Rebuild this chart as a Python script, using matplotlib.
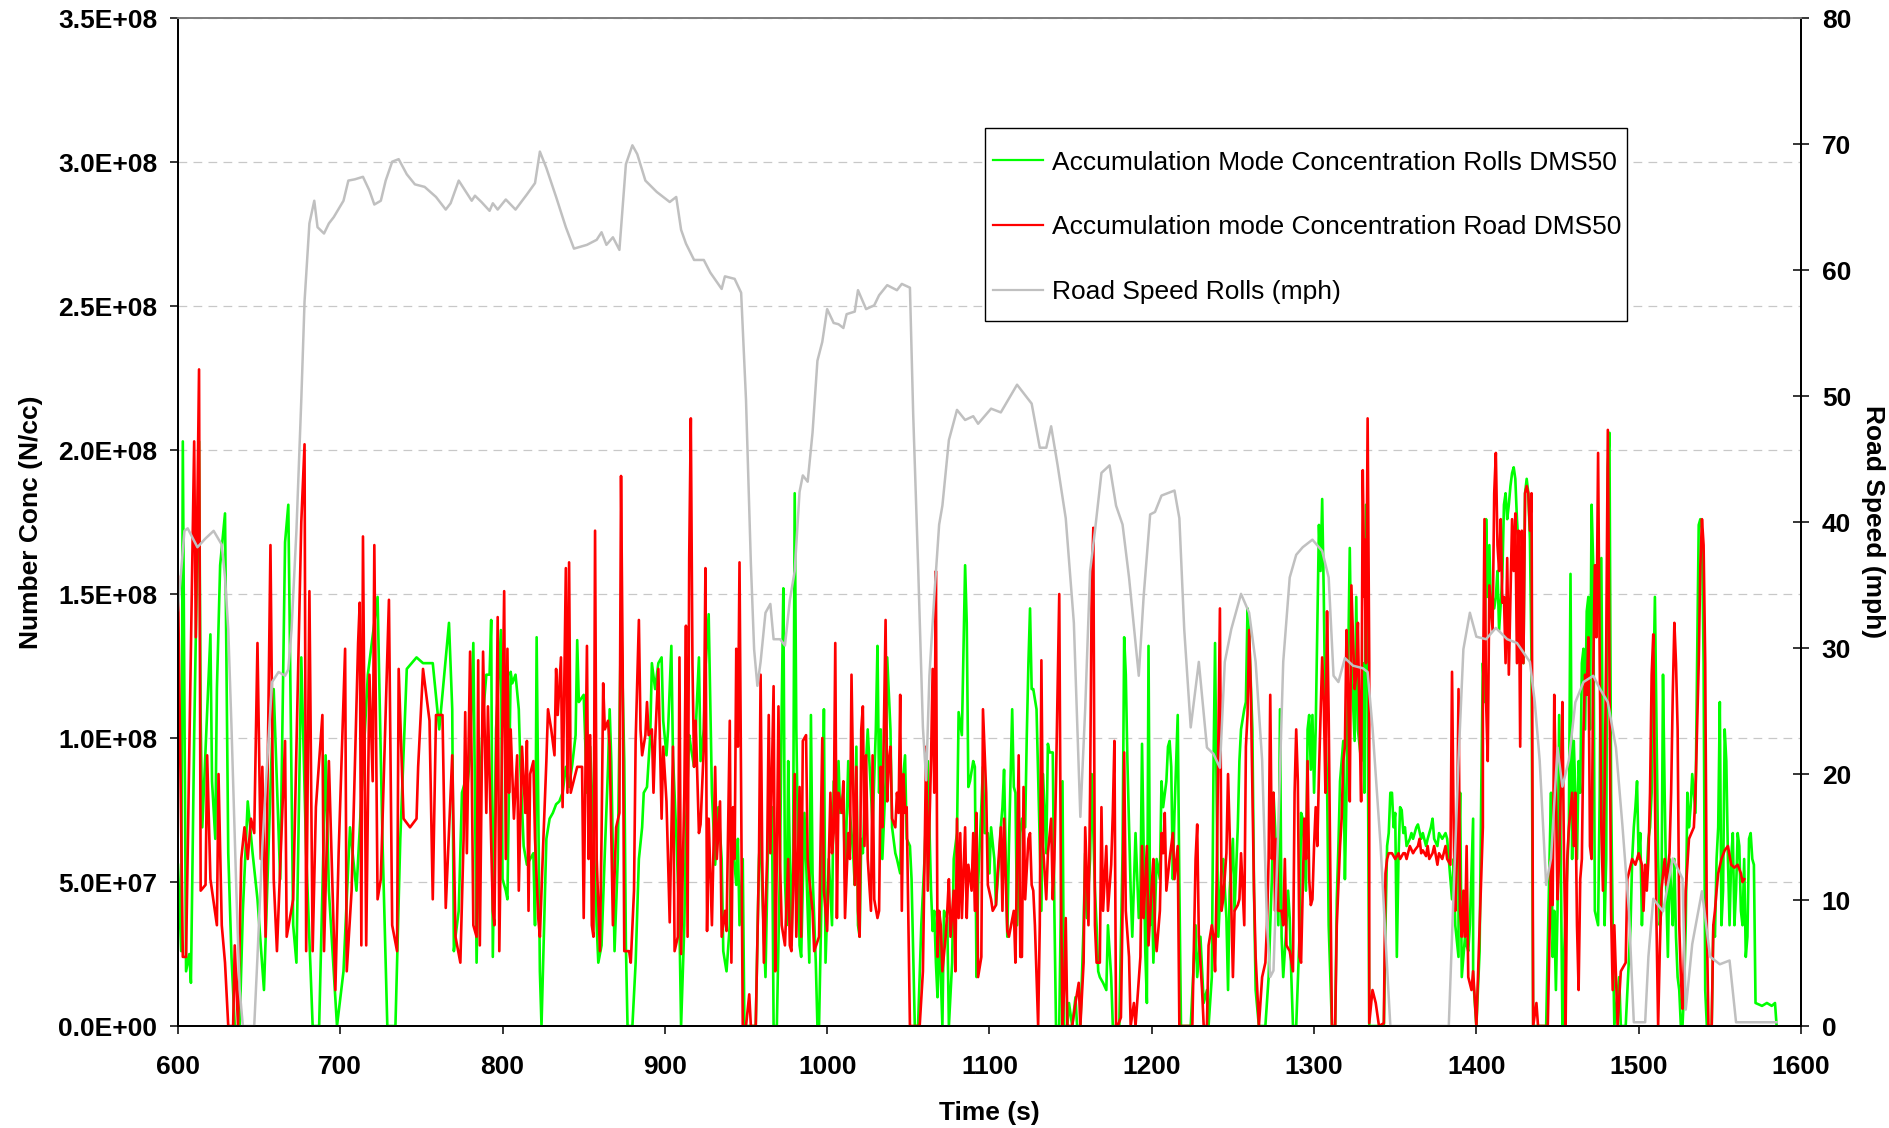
import matplotlib
matplotlib.use("Agg")
import matplotlib.pyplot as plt
from matplotlib.patches import Rectangle
from matplotlib.ticker import FuncFormatter, MultipleLocator
import numpy as np

plt.rcParams["font.family"] = ["Liberation Sans", "DejaVu Sans"]

# accumulation mode concentration, rolls (time s, N/cc in units of 1e7)
GREEN_ROLLS = [
    (600, 5.6), (602, 2.6), (603, 20.3), (605, 1.9), (607, 2.5), (608, 1.5), (610, 10.1), (613, 20.3),
    (614, 10.6), (615, 6.9), (620, 13.6), (621, 8.5), (623, 6.5), (624, 11.7), (626, 16.0), (629, 17.8),
    (631, 6.0), (633, 2.4), (635, 0), (638, 0), (640, 4.0), (643, 7.8), (646, 6.0), (649, 4.4),
    (653, 1.25), (659, 11.7), (663, 5.1), (666, 16.8), (668, 18.1), (671, 3.5), (673, 2.2), (676, 12.8),
    (679, 6.0), (683, 0), (687, 0), (691, 9.4), (693, 4.7), (698, 0), (702, 1.9), (706, 6.9),
    (710, 4.7), (717, 12.2), (723, 14.9), (726, 6.5), (729, 0), (734, 0), (737, 6.5), (741, 12.4),
    (747, 12.8), (751, 12.6), (757, 12.6), (761, 10.3), (767, 14.0),
    (769, 11.0), (770, 2.6), (771, 3.1), (773, 4.0), (775, 8.1), (777, 8.5), (778, 8.1), (780, 9.4),
    (782, 13.3), (783, 8.1), (784, 2.2), (786, 8.1), (788, 10.8), (790, 12.2), (792, 12.2), (793, 14.1),
    (794, 2.4), (796, 10.3), (799, 13.75), (800, 5.1), (802, 4.7), (803, 4.4), (805, 12.3), (806, 11.9),
    (808, 12.2), (810, 11.0), (811, 9.0), (813, 6.25), (815, 5.6), (817, 5.8), (819, 6.0), (820, 3.5),
    (821, 13.5), (823, 1.9), (824, 0), (825, 2.2), (827, 6.5), (829, 7.2), (831, 7.4), (833, 7.7),
    (835, 7.8), (837, 8.1), (839, 9.0), (841, 8.3), (843, 9.1), (845, 10.1), (846, 13.4), (847, 11.25),
    (850, 11.5), (852, 8.1), (854, 9.7), (856, 6.7), (858, 3.5), (859, 2.2), (861, 2.8), (863, 6.0),
    (865, 9.0), (866, 11.0), (867, 9.2), (869, 2.6), (871, 5.8), (873, 14.4), (875, 9.2), (876, 2.8),
    (877, 0), (880, 0), (882, 2.2), (884, 5.8), (886, 6.9), (887, 8.1), (889, 8.3), (891, 10.1),
    (892, 12.6), (894, 11.7), (896, 12.6), (898, 12.8), (899, 10.6), (901, 9.4), (902, 10.3), (904, 13.2),
    (905, 9.4), (907, 6.7), (909, 3.5), (910, 0), (912, 3.5), (913, 6.9), (915, 10.1), (916, 9.7),
    (918, 9.0), (921, 12.8), (922, 9.2), (924, 10.3), (925, 12.4), (927, 14.3),
    (929, 8.1), (931, 5.6), (933, 7.6), (935, 5.8), (936, 2.6), (938, 1.9), (940, 3.5), (941, 6.25),
    (942, 6.25), (944, 4.9), (945, 6.5), (946, 3.5), (948, 5.8), (949, 0), (956, 0), (958, 5.8),
    (959, 6.9), (960, 4.7), (962, 1.7), (964, 7.6), (966, 7.6), (967, 0), (969, 0), (971, 5.8),
    (972, 11.0), (973, 15.2), (974, 5.1), (975, 3.5), (976, 9.2), (977, 5.8), (978, 2.8), (979, 5.8),
    (980, 18.5), (981, 10.3), (983, 2.8), (984, 2.4), (986, 7.4), (987, 5.8), (989, 2.2), (990, 10.8),
    (991, 5.3), (993, 2.2), (994, 0), (995, 0), (997, 5.8), (998, 11.0), (999, 2.2), (1001, 5.8),
    (1003, 3.5), (1004, 8.5), (1006, 6.7), (1007, 9.2), (1008, 7.4), (1010, 8.1), (1011, 5.1), (1013, 9.2),
    (1014, 7.4), (1016, 6.0), (1017, 4.9), (1018, 9.7), (1019, 3.5), (1020, 3.1), (1021, 6.5), (1022, 6.0),
    (1024, 9.2), (1025, 10.3), (1027, 8.1), (1028, 6.9), (1030, 10.3), (1031, 13.2), (1032, 8.1), (1033, 10.3),
    (1034, 5.8), (1036, 8.5), (1037, 12.8), (1039, 10.3), (1040, 6.9), (1042, 6.0), (1043, 5.8), (1045, 5.3),
    (1046, 8.1), (1048, 9.4), (1049, 6.5), (1051, 6.25), (1052, 5.1), (1054, 0), (1056, 0), (1058, 3.5),
    (1060, 5.8), (1062, 9.2), (1064, 4.7), (1065, 3.3), (1066, 4.0), (1067, 2.2), (1068, 1.0), (1069, 3.5),
    (1071, 0), (1072, 4.0), (1074, 3.75), (1075, 0), (1077, 2.2), (1078, 5.8), (1080, 6.7), (1081, 10.9),
    (1083, 10.1), (1085, 16.0), (1086, 14.0), (1087, 8.3), (1088, 8.5), (1090, 9.2), (1091, 9.0), (1092, 1.7),
    (1093, 4.9), (1096, 9.0), (1097, 6.7), (1099, 6.7), (1100, 5.3), (1101, 6.9), (1103, 5.8), (1104, 4.2),
    (1106, 5.8), (1107, 6.9), (1108, 7.6), (1109, 8.9), (1111, 3.1), (1112, 6.25), (1114, 11.0), (1115, 8.3),
    (1116, 8.1), (1117, 3.5), (1119, 6.7), (1120, 7.2), (1122, 6.9), (1123, 10.1), (1124, 12.6), (1125, 14.5),
    (1126, 11.7), (1127, 11.7), (1129, 11.0), (1131, 6.25), (1132, 4.0), (1133, 8.75), (1135, 6.0), (1136, 9.8),
    (1137, 9.5), (1139, 9.5), (1140, 4.0), (1141, 0), (1143, 0), (1145, 8.5), (1146, 0), (1148, 0),
    (1149, 0.8), (1151, 0), (1153, 1.0), (1154, 0), (1156, 0), (1158, 3.5), (1159, 6.0), (1160, 3.75),
    (1162, 5.8), (1163, 8.75), (1165, 4.7), (1166, 3.5), (1167, 1.9), (1168, 1.7), (1170, 1.5), (1172, 1.25),
    (1173, 3.5), (1175, 1.7), (1176, 0), (1180, 0), (1182, 6.0), (1183, 13.5), (1184, 12.2), (1185, 9.2),
    (1187, 4.7), (1188, 3.1), (1190, 6.7), (1192, 3.75), (1193, 4.7), (1194, 9.8), (1195, 6.25), (1196, 2.6),
    (1197, 0.8), (1198, 13.2), (1199, 3.5), (1200, 5.1), (1201, 2.2), (1203, 5.8), (1205, 5.1), (1206, 8.5),
    (1207, 7.6), (1209, 8.5), (1210, 9.7), (1211, 9.9), (1212, 9.0), (1213, 5.1), (1214, 7.4), (1216, 10.8),
    (1217, 4.9), (1218, 0), (1224, 0), (1227, 3.5), (1228, 1.7), (1230, 3.1), (1232, 0.8), (1234, 1.25),
    (1235, 0), (1237, 1.7), (1238, 8.75), (1239, 13.3), (1240, 7.8), (1241, 3.1), (1243, 5.6), (1244, 5.8),
    (1246, 3.75), (1247, 1.25), (1248, 4.7), (1250, 6.5), (1251, 4.0), (1253, 6.9), (1254, 9.2), (1255, 10.3),
    (1257, 11.0), (1258, 11.25), (1259, 14.5), (1260, 13.6), (1262, 10.3), (1263, 4.7),
    (1264, 1.25), (1266, 0), (1270, 0), (1272, 1.7), (1273, 3.5), (1274, 5.1), (1275, 8.1), (1276, 6.9),
    (1278, 3.5), (1279, 11.0), (1280, 3.1), (1281, 1.7), (1283, 3.5), (1284, 4.7), (1285, 3.75), (1286, 1.7),
    (1287, 0), (1289, 0), (1291, 3.1), (1292, 7.4), (1293, 7.2), (1295, 4.7), (1296, 10.3), (1297, 10.8),
    (1298, 8.9), (1299, 10.8), (1300, 8.1), (1301, 10.3), (1303, 17.4), (1304, 15.8), (1305, 18.3), (1306, 14.9),
    (1307, 10.3), (1308, 8.5), (1309, 3.5), (1311, 0), (1313, 0), (1314, 4.4), (1315, 6.25), (1316, 8.5),
    (1318, 9.9), (1319, 5.1), (1320, 8.1), (1321, 12.6), (1322, 16.6), (1323, 12.6), (1325, 9.9), (1326, 14.9),
    (1327, 10.3), (1329, 9.2), (1330, 12.6), (1331, 8.1), (1332, 18.1), (1333, 11.7), (1334, 0), (1343, 0),
    (1344, 3.5), (1345, 6.25), (1346, 6.7), (1347, 8.1), (1348, 8.1), (1349, 6.9), (1350, 7.4), (1351, 2.4),
    (1352, 5.8), (1353, 7.6), (1354, 7.5), (1355, 6.7), (1356, 6.9), (1357, 6.25), (1359, 6.5), (1360, 6.7),
    (1361, 6.5), (1363, 6.9), (1364, 7.0), (1366, 6.5), (1367, 6.7), (1369, 6.25), (1370, 6.5), (1372, 6.9),
    (1373, 7.2), (1374, 6.5), (1376, 6.25), (1377, 6.7), (1379, 6.5), (1381, 6.7), (1382, 6.5), (1383, 5.8),
    (1385, 4.4), (1386, 5.8), (1387, 3.5), (1389, 2.4), (1389, 5.1), (1390, 8.1), (1391, 1.7), (1393, 3.1),
    (1394, 2.8), (1395, 2.6), (1396, 3.5), (1398, 7.2), (1398, 1.7), (1400, 0), (1402, 2.6), (1403, 8.1),
    (1404, 12.6), (1405, 11.25), (1406, 17.6), (1407, 14.9), (1408, 16.7), (1409, 14.4), (1410, 14.9), (1411, 14.5),
    (1412, 14.9), (1413, 15.8), (1414, 13.75), (1416, 15.6), (1417, 18.1), (1418, 18.5), (1419, 17.6), (1420, 18.1),
    (1421, 18.75), (1422, 19.2), (1423, 19.4), (1424, 19.0), (1425, 17.6), (1426, 16.7),
    (1428, 16.5), (1429, 12.6), (1430, 18.5), (1431, 19.0), (1432, 18.5), (1433, 16.9), (1434, 12.6), (1435, 0),
    (1443, 0), (1445, 5.6), (1446, 8.1), (1447, 2.4), (1448, 4.0), (1449, 1.25), (1450, 4.0), (1451, 10.8),
    (1452, 5.8), (1453, 0), (1454, 2.4), (1455, 4.0), (1457, 6.9), (1458, 15.7), (1459, 5.8), (1460, 9.9),
    (1461, 8.1), (1462, 5.8), (1463, 9.2), (1464, 8.1), (1465, 12.6), (1466, 13.1), (1467, 10.3), (1468, 14.4),
    (1469, 14.9), (1470, 10.3), (1471, 18.1), (1472, 16.0), (1473, 4.0), (1475, 3.5), (1476, 8.1), (1477, 16.25),
    (1478, 8.1), (1479, 3.5), (1480, 5.8), (1481, 19.4), (1482, 20.6), (1483, 8.1), (1484, 3.5), (1485, 0),
    (1488, 1.7), (1489, 0), (1492, 0), (1495, 3.5), (1496, 5.8), (1497, 6.9), (1498, 7.6), (1499, 8.5),
    (1500, 5.8), (1501, 6.7), (1502, 3.5), (1503, 5.3), (1505, 5.3), (1506, 6.5), (1507, 6.9), (1508, 8.1),
    (1509, 11.5), (1510, 14.9), (1511, 10.3), (1512, 5.8), (1513, 3.5), (1514, 4.0), (1515, 12.2), (1516, 8.1),
    (1517, 4.7), (1518, 2.4), (1519, 5.8), (1520, 4.7), (1521, 3.5), (1522, 5.8), (1523, 3.1), (1524, 1.7),
    (1525, 1.25), (1526, 0), (1527, 0), (1528, 1.25), (1529, 3.5), (1530, 8.1), (1531, 6.9), (1532, 7.6),
    (1533, 8.75), (1535, 7.4), (1536, 12.6), (1537, 17.4), (1538, 17.6), (1539, 17.2), (1540, 12.6), (1541, 1.25),
    (1542, 0), (1545, 0), (1546, 3.5), (1547, 3.1), (1548, 5.8), (1549, 6.9), (1550, 11.25), (1551, 3.5),
    (1552, 4.7), (1553, 10.3), (1554, 9.2), (1555, 5.8), (1556, 3.5), (1557, 5.8), (1558, 6.7), (1559, 3.5),
    (1560, 4.7), (1561, 6.7), (1562, 6.25), (1563, 4.0), (1564, 3.5), (1565, 5.8), (1566, 2.4), (1567, 3.1),
    (1568, 6.5), (1569, 6.7), (1570, 5.8), (1571, 5.6), (1572, 0.8), (1576, 0.7), (1579, 0.8), (1582, 0.7),
    (1584, 0.8), (1585, 0),
]

# accumulation mode concentration, road (time s, N/cc in units of 1e7)
RED_ROAD = [
    (600, 15.6), (603, 2.4), (605, 2.4), (610, 20.3), (611, 13.5), (613, 22.8), (614, 4.7), (617, 4.9),
    (618, 9.4), (620, 5.1), (624, 3.5), (625, 8.75), (627, 3.5), (629, 2.2), (631, 0), (634, 0),
    (635, 2.8), (637, 0), (639, 5.8), (641, 6.9), (643, 5.8), (645, 7.2), (647, 6.7), (649, 13.3),
    (651, 5.8), (652, 9.0), (654, 3.1), (657, 16.7), (659, 5.1), (661, 2.6), (666, 9.9), (667, 3.1),
    (671, 4.4), (676, 17.5), (678, 20.2), (679, 2.6), (681, 15.1), (683, 2.6), (685, 7.6), (689, 10.8),
    (690, 2.6), (693, 9.2), (697, 1.25), (699, 6.0), (703, 13.1), (704, 1.9), (707, 4.7), (711, 13.3),
    (712, 14.7), (713, 2.8), (714, 17.0), (716, 2.8), (718, 12.2), (720, 8.5), (721, 16.7), (723, 4.4),
    (725, 5.1), (730, 14.8), (732, 3.5), (735, 2.6), (736, 12.4), (739, 7.2), (743, 6.9), (747, 7.2),
    (748, 9.0), (751, 12.4), (755, 10.6), (757, 4.4), (759, 10.8), (763, 10.8), (765, 4.1),
    (769, 9.4), (771, 3.1), (774, 2.2), (776, 6.5), (777, 10.9), (778, 6.0), (780, 13.0), (781, 9.0),
    (782, 3.5), (784, 3.1), (785, 12.7), (786, 2.8), (788, 13.0), (790, 7.4), (791, 11.1), (792, 8.75),
    (794, 4.0), (795, 3.5), (797, 14.2), (798, 2.6), (801, 15.1), (802, 5.8), (803, 13.1), (804, 8.1),
    (805, 10.3), (807, 7.2), (809, 9.4), (810, 4.7), (812, 9.7), (814, 7.4), (815, 9.9), (816, 4.0),
    (817, 8.75), (819, 9.2), (820, 6.5), (822, 3.75), (823, 3.1), (825, 6.25), (827, 9.2), (828, 11.0),
    (830, 10.3), (832, 9.4), (833, 12.4), (834, 10.8), (836, 12.8), (837, 7.6), (839, 15.9), (840, 8.1),
    (841, 16.1), (842, 8.1), (846, 9.0), (849, 9.0), (850, 3.75), (852, 13.2), (853, 5.8), (854, 10.1),
    (855, 3.5), (856, 3.1), (857, 17.2), (858, 5.8), (860, 2.6), (861, 6.6), (862, 11.9), (863, 10.3),
    (865, 10.6), (866, 9.7), (868, 3.5), (870, 6.9), (872, 7.4), (873, 19.1), (874, 12.6), (875, 2.6),
    (878, 2.6), (879, 2.2), (881, 4.7), (882, 9.9), (884, 14.1), (885, 10.3), (886, 9.4), (888, 10.1),
    (889, 11.25), (890, 10.1), (892, 10.3), (893, 8.1), (894, 9.9), (896, 12.4), (898, 7.2), (899, 9.7),
    (901, 7.8), (903, 3.6), (905, 9.7), (906, 2.6), (908, 3.1), (909, 12.8), (910, 2.5), (912, 8.1),
    (913, 13.9), (914, 3.1), (915, 16.25), (916, 21.1), (917, 12.6), (918, 9.0), (919, 10.6), (921, 6.7),
    (922, 7.0), (924, 9.7), (925, 15.9), (926, 3.3), (927, 7.2),
    (929, 3.5), (931, 9.0), (932, 5.8), (934, 7.8), (935, 3.1), (937, 4.0), (938, 3.3), (940, 10.6),
    (941, 2.2), (942, 7.6), (943, 5.8), (944, 13.1), (945, 9.7), (946, 16.1), (947, 8.1), (948, 0),
    (950, 0), (952, 1.1), (953, 0), (956, 0), (958, 5.8), (959, 12.2), (960, 5.8), (961, 2.2),
    (963, 5.8), (964, 10.8), (965, 6.0), (967, 11.8), (968, 1.9), (969, 5.8), (970, 11.1), (971, 5.6),
    (972, 3.5), (974, 2.8), (976, 5.8), (977, 2.8), (978, 2.6), (979, 4.7), (980, 8.75), (981, 3.1),
    (983, 8.3), (984, 3.1), (985, 9.9), (987, 10.1), (988, 5.8), (989, 5.1), (991, 4.0), (992, 2.6),
    (995, 3.1), (997, 10.0), (998, 4.7), (1000, 3.3), (1002, 8.1), (1003, 6.0), (1004, 6.7), (1005, 13.3),
    (1006, 3.75), (1007, 8.1), (1009, 7.4), (1010, 8.5), (1011, 3.75), (1013, 6.7), (1014, 5.8), (1015, 12.2),
    (1017, 4.9), (1018, 9.0), (1019, 4.0), (1020, 3.1), (1021, 10.3), (1022, 11.1), (1023, 6.25), (1024, 9.4),
    (1025, 5.8), (1027, 4.0), (1028, 9.4), (1029, 4.4), (1031, 3.75), (1032, 4.0), (1033, 9.0), (1034, 6.9),
    (1036, 14.1), (1037, 7.8), (1038, 9.2), (1039, 9.7), (1040, 7.2), (1042, 6.9), (1043, 8.1), (1044, 7.4),
    (1045, 11.5), (1046, 4.0), (1047, 8.75), (1048, 7.4), (1049, 7.6), (1051, 0), (1057, 0), (1059, 1.9),
    (1061, 9.7), (1062, 4.7), (1064, 9.2), (1065, 12.4), (1066, 8.1), (1067, 15.8), (1068, 2.4), (1069, 4.0),
    (1070, 3.5), (1071, 1.9), (1073, 3.1), (1074, 4.0), (1075, 5.1), (1076, 3.1), (1078, 4.7), (1079, 1.9),
    (1080, 7.2), (1081, 3.75), (1082, 6.7), (1083, 3.75), (1085, 6.9), (1086, 3.75), (1087, 5.6), (1089, 4.7),
    (1090, 6.7), (1091, 4.0), (1092, 7.4), (1093, 1.7),
    (1095, 2.4), (1096, 11.0), (1098, 8.1), (1099, 4.9), (1101, 4.4), (1102, 4.0), (1104, 4.2), (1105, 5.3),
    (1107, 6.9), (1108, 4.0), (1109, 7.2), (1111, 3.3), (1112, 3.1), (1115, 4.0), (1116, 2.2), (1118, 9.4),
    (1119, 2.4), (1120, 2.4), (1121, 8.3), (1122, 4.4), (1124, 6.5), (1125, 6.7), (1126, 4.9), (1127, 4.7),
    (1128, 3.5), (1130, 0), (1131, 3.5), (1132, 12.7), (1133, 6.25), (1135, 4.4), (1136, 6.0), (1138, 7.2),
    (1139, 4.4), (1140, 5.8), (1141, 8.5), (1143, 15.0), (1144, 5.1), (1145, 0), (1146, 1.25), (1147, 3.75),
    (1148, 0), (1151, 0), (1153, 0.8), (1155, 1.5), (1156, 0), (1158, 2.2), (1159, 6.9), (1161, 3.5),
    (1162, 8.1), (1163, 15.3), (1164, 17.3), (1165, 3.5), (1166, 2.2), (1168, 2.2), (1169, 7.6), (1170, 4.0),
    (1172, 6.25), (1173, 4.0), (1175, 5.6), (1176, 7.4), (1177, 9.9), (1178, 0), (1179, 0), (1181, 0.3),
    (1182, 4.0), (1183, 9.5), (1184, 4.0), (1186, 2.4), (1187, 0), (1189, 0.8), (1190, 0), (1193, 2.4),
    (1194, 6.25), (1195, 3.75), (1197, 6.25), (1198, 2.8), (1200, 4.9), (1201, 5.8), (1202, 3.3), (1203, 2.6),
    (1205, 4.0), (1206, 6.7), (1207, 6.0), (1208, 7.4), (1209, 4.7), (1211, 5.8), (1213, 6.7), (1214, 5.1),
    (1216, 6.25), (1217, 0), (1225, 0), (1227, 5.8), (1228, 7.0), (1229, 3.1), (1231, 1.25), (1232, 0),
    (1234, 0), (1235, 2.8), (1237, 3.5), (1238, 3.1), (1239, 1.9), (1240, 5.1), (1242, 14.5), (1243, 4.0),
    (1244, 4.4), (1246, 6.0), (1247, 8.75), (1248, 6.7), (1250, 1.7), (1251, 4.0), (1253, 4.2), (1254, 4.4),
    (1255, 6.0), (1257, 3.5), (1258, 9.7), (1259, 10.8), (1260, 13.75), (1261, 11.7), (1263, 4.7),
    (1264, 2.4), (1265, 1.25), (1266, 0), (1268, 1.7), (1270, 2.2), (1271, 3.5), (1272, 5.8), (1273, 11.5),
    (1274, 5.8), (1275, 8.1), (1276, 4.0), (1277, 6.5), (1278, 4.0), (1280, 4.0), (1281, 3.5), (1282, 5.8),
    (1283, 2.8), (1285, 2.6), (1287, 1.9), (1288, 8.1), (1289, 10.3), (1290, 8.5), (1291, 2.4), (1292, 2.2),
    (1294, 7.2), (1295, 5.8), (1296, 9.2), (1297, 5.1), (1298, 4.2), (1299, 4.4), (1300, 6.25), (1301, 7.6),
    (1302, 6.25), (1303, 8.75), (1305, 12.8), (1306, 11.25), (1307, 8.1), (1308, 14.4), (1309, 10.8), (1310, 5.3),
    (1311, 0), (1313, 0), (1314, 3.5), (1316, 6.25), (1317, 7.2), (1318, 9.2), (1319, 9.7), (1320, 13.75),
    (1321, 11.7), (1322, 7.8), (1323, 15.3), (1325, 11.7), (1326, 12.2), (1327, 14.0), (1328, 10.6), (1329, 7.8),
    (1330, 19.3), (1331, 14.9), (1331, 16.9), (1332, 12.6), (1333, 21.1), (1334, 12.6), (1334, 0.1), (1336, 1.25),
    (1338, 0.8), (1340, 0), (1343, 0.1), (1344, 5.3), (1345, 5.8), (1346, 6.0), (1348, 6.0), (1350, 5.8),
    (1352, 6.0), (1353, 5.8), (1355, 6.0), (1356, 6.0), (1357, 5.8), (1359, 6.25), (1361, 6.0), (1362, 6.1),
    (1364, 6.25), (1365, 6.5), (1366, 6.0), (1367, 6.1), (1369, 5.9), (1370, 6.25), (1371, 5.8), (1373, 6.0),
    (1374, 6.25), (1376, 5.6), (1377, 6.0), (1379, 5.8), (1381, 6.25), (1382, 5.8), (1384, 5.6), (1385, 12.3),
    (1386, 6.9), (1387, 4.0), (1388, 5.8), (1389, 11.7), (1390, 4.0), (1391, 3.1), (1392, 4.7), (1393, 3.1),
    (1394, 6.25), (1395, 1.7), (1397, 1.25), (1398, 1.9), (1400, 0), (1401, 1.7), (1402, 3.5), (1404, 6.9),
    (1404, 11.0), (1405, 17.6), (1406, 11.25), (1407, 9.2), (1408, 15.3), (1410, 13.75), (1411, 18.5), (1412, 19.9),
    (1413, 16.7), (1414, 15.8), (1415, 17.6), (1416, 14.7), (1417, 14.9), (1418, 12.6), (1419, 16.25), (1420, 12.2),
    (1421, 14.9), (1422, 17.6), (1423, 15.8), (1424, 17.8), (1425, 12.6), (1426, 17.2),
    (1427, 9.7), (1428, 17.2), (1429, 12.6), (1430, 18.5), (1431, 18.75), (1432, 18.5), (1433, 17.2), (1434, 18.5),
    (1435, 0), (1437, 0.8), (1438, 0), (1444, 0), (1446, 5.8), (1447, 4.2), (1448, 11.5), (1449, 8.1),
    (1450, 4.4), (1451, 5.8), (1452, 8.1), (1453, 11.25), (1454, 5.8), (1455, 2.4), (1455, 0), (1456, 5.8),
    (1457, 6.9), (1459, 8.1), (1460, 6.25), (1461, 8.1), (1462, 3.5), (1463, 1.25), (1464, 5.1), (1465, 5.8),
    (1466, 10.3), (1467, 12.2), (1468, 11.5), (1469, 13.5), (1470, 6.25), (1471, 5.8), (1472, 12.2), (1473, 16.0),
    (1474, 13.5), (1475, 19.9), (1476, 12.6), (1477, 6.9), (1478, 4.7), (1479, 8.1), (1480, 13.1), (1481, 20.7),
    (1482, 12.6), (1483, 4.0), (1484, 1.25), (1485, 3.5), (1486, 1.7), (1487, 0), (1489, 1.9), (1492, 2.2),
    (1493, 5.1), (1496, 5.8), (1498, 5.6), (1500, 6.0), (1502, 5.6), (1503, 4.0), (1504, 5.6), (1505, 4.7),
    (1506, 5.8), (1507, 8.1), (1508, 12.2), (1509, 13.6), (1510, 8.1), (1511, 3.5), (1512, 0), (1513, 2.6),
    (1514, 4.7), (1516, 5.8), (1517, 4.9), (1519, 6.0), (1520, 8.1), (1521, 11.5), (1522, 14.0), (1523, 12.6),
    (1524, 10.3), (1525, 3.5), (1526, 1.7), (1527, 0.6), (1528, 2.6), (1529, 4.7), (1531, 6.5), (1534, 6.9),
    (1535, 8.1), (1536, 10.3), (1537, 12.6), (1538, 16.0), (1539, 17.6), (1540, 16.7), (1541, 12.6), (1542, 3.5),
    (1543, 0), (1545, 0), (1546, 3.5), (1547, 4.0), (1548, 4.7), (1549, 5.3), (1551, 5.8), (1553, 6.1),
    (1555, 6.25), (1557, 5.6), (1559, 5.5), (1561, 5.6), (1563, 5.3), (1564, 5.0), (1565, 5.1),
]

# road speed on the rolls (time s, mph)
SPEED_ROLLS = [
    (600, 33.0), (604, 39.3), (606, 39.5), (612, 38.0), (617, 38.7), (622, 39.3), (627, 38.2), (629, 35.6),
    (631, 31.5), (633, 23.7), (636, 10.7), (638, 2.9), (640, 0), (647, 0), (649, 5.5), (652, 14.3),
    (655, 21.0), (658, 27.3), (662, 28.1), (666, 27.8), (668, 28.3), (670, 31.5), (673, 39.3), (676, 49.7),
    (678, 57.5), (681, 63.7), (684, 65.5), (686, 63.4), (690, 62.9), (693, 63.7), (696, 64.2), (702, 65.5),
    (705, 67.1), (709, 67.2), (714, 67.4), (718, 66.3), (721, 65.2), (725, 65.5), (728, 67.1), (732, 68.6),
    (736, 68.8), (741, 67.6), (746, 66.8), (752, 66.6), (759, 65.8), (765, 64.8), (768, 65.3), (773, 67.1),
    (777, 66.3), (781, 65.5), (783, 65.9), (787, 65.4), (792, 64.7), (794, 65.3), (797, 64.8), (802, 65.6),
    (808, 64.8), (815, 66.0), (820, 66.9), (823, 69.4), (827, 68.1), (833, 65.8), (839, 63.4), (844, 61.7),
    (852, 62.0), (858, 62.4), (861, 63.0), (864, 62.0), (868, 62.6), (872, 61.6), (876, 68.4), (880, 69.9),
    (883, 69.2), (888, 67.1), (895, 66.2), (903, 65.4), (907, 65.8), (910, 63.2), (913, 62.1), (918, 60.8),
    (924, 60.8), (928, 59.8), (935, 58.5), (937, 59.5), (943, 59.3), (947, 58.2), (950, 49.7), (953, 36.7),
    (955, 29.9), (957, 27.0), (959, 28.9), (962, 32.8), (965, 33.5), (967, 30.7), (971, 30.7), (974, 30.2),
    (977, 33.8), (980, 36.1), (983, 42.4), (985, 43.7), (988, 43.2), (991, 47.1), (994, 52.8), (997, 54.3),
    (1000, 56.9), (1004, 55.8), (1007, 55.7), (1010, 55.4), (1012, 56.5), (1017, 56.7), (1019, 58.4), (1024, 56.9),
    (1029, 57.2), (1032, 58.0), (1037, 58.8), (1043, 58.4), (1046, 58.9), (1051, 58.6), (1053, 48.6), (1056, 36.7),
    (1059, 23.7), (1061, 19.5), (1063, 27.8), (1066, 34.1), (1069, 39.8), (1071, 41.3), (1075, 46.5), (1080, 48.9),
    (1085, 48.1), (1090, 48.4), (1093, 47.8), (1101, 49.0), (1107, 48.7), (1117, 50.9), (1126, 49.4), (1131, 45.9),
    (1135, 45.9), (1138, 47.6), (1142, 44.5), (1147, 40.3), (1152, 32.0), (1156, 16.6), (1159, 25.2), (1162, 36.1),
    (1165, 39.3), (1169, 43.9), (1174, 44.5), (1178, 41.3), (1182, 39.8), (1186, 35.6), (1192, 27.8), (1195, 34.1),
    (1199, 40.6), (1202, 40.8), (1206, 42.1), (1214, 42.5), (1217, 40.3), (1220, 31.5), (1224, 23.7), (1229, 28.9),
    (1234, 22.1), (1238, 21.6), (1242, 20.5), (1245, 28.9), (1249, 31.5), (1255, 34.3), (1260, 32.8), (1264, 28.9),
    (1268, 21.1), (1271, 8.1), (1273, 3.9), (1275, 4.4), (1278, 15.9), (1281, 28.9), (1285, 35.6), (1289, 37.4),
    (1293, 38.0), (1299, 38.6), (1305, 37.7), (1309, 35.6), (1312, 27.8), (1315, 27.3), (1319, 29.2), (1324, 28.6),
    (1330, 28.4), (1333, 28.1), (1336, 23.7), (1341, 14.3), (1344, 7.0), (1347, 0), (1383, 0), (1386, 10.7),
    (1389, 21.1), (1392, 29.9), (1396, 32.8), (1400, 30.9), (1406, 30.7), (1412, 31.6), (1419, 30.7), (1425, 30.4),
    (1433, 28.9), (1436, 25.7), (1439, 21.1), (1443, 11.2), (1446, 13.3), (1450, 22.1), (1453, 19.0), (1457, 21.1),
    (1461, 25.7), (1466, 27.3), (1472, 27.8), (1476, 26.8), (1481, 25.7), (1486, 22.1), (1490, 15.9), (1494, 9.1),
    (1497, 0.3), (1504, 0.3), (1506, 5.5), (1509, 10.1), (1515, 9.1), (1521, 13.3), (1527, 11.7), (1529, 1.3),
    (1533, 6.5), (1539, 10.7), (1544, 5.5), (1550, 4.9), (1556, 5.2), (1560, 0.3), (1585, 0.3),
]

LABELS = [
    "Accumulation Mode Concentration Rolls DMS50",
    "Accumulation mode Concentration Road DMS50",
    "Road Speed Rolls (mph)",
]


def unzip(pairs, scale=1.0):
    arr = np.array(pairs, dtype=float)
    return arr[:, 0], arr[:, 1] * scale


def main() -> None:
    tg, cg = unzip(GREEN_ROLLS, 1e7)
    tr, cr = unzip(RED_ROAD, 1e7)
    ts, vs = unzip(SPEED_ROLLS)

    fig = plt.figure(figsize=(18.89, 11.28), dpi=100)
    ax = fig.add_axes([0.0942, 0.0904, 0.8592, 0.8936])
    ax2 = ax.twinx()

    ln_g, = ax.plot(tg, cg, color="#00ff00", lw=1.9, zorder=3)
    ln_r, = ax.plot(tr, cr, color="#ff0000", lw=1.9, zorder=4)
    ln_s, = ax2.plot(ts, vs, color="#c0c0c0", lw=1.8)

    ax.set_xlim(600, 1600)
    ax.set_ylim(0, 3.5e8)
    ax2.set_ylim(0, 80)
    ax.xaxis.set_major_locator(MultipleLocator(100))
    ax.yaxis.set_major_locator(MultipleLocator(0.5e8))
    ax2.yaxis.set_major_locator(MultipleLocator(10))
    ax.yaxis.set_major_formatter(FuncFormatter(lambda v, p: f"{v:.1E}"))

    for y in np.arange(0.5e8, 3.51e8, 0.5e8):
        ax.axhline(y, color="#c8c8c8", lw=0.9, ls=(0, (7, 5)), zorder=1)

    fs = 19
    ax.tick_params(axis="y", direction="out", length=6, width=1.1, pad=9, labelsize=fs)
    ax.tick_params(axis="x", direction="out", length=6, width=1.1, pad=15, labelsize=fs)
    ax2.tick_params(axis="y", direction="inout", length=11, width=1.1, pad=9.5, labelsize=fs)
    for lab in ax.get_xticklabels() + ax.get_yticklabels() + ax2.get_yticklabels():
        lab.set_fontweight("bold")

    for a in (ax, ax2):
        for side in ("left", "bottom", "right"):
            a.spines[side].set_color("black")
            a.spines[side].set_linewidth(1.3)
        a.spines["top"].set_color("#808080")
        a.spines["top"].set_linewidth(1.3)

    ax.set_xlabel("Time (s)", fontsize=fs, fontweight="bold")
    ax.set_ylabel("Number Conc (N/cc)", fontsize=fs, fontweight="bold")
    ax2.set_ylabel("Road Speed (mph)", rotation=270, va="bottom", fontsize=fs, fontweight="bold")
    ax.xaxis.set_label_coords(0.5, -0.074)
    ax.yaxis.set_label_coords(-0.083, 0.5)
    ax2.yaxis.set_label_coords(1.037, 0.5)

    # legend box drawn as a patch so its padding can match the original
    box = Rectangle((0.4975, 0.6999), 0.3956, 0.1913, transform=ax2.transAxes,
                    facecolor="white", edgecolor="black", lw=1.0, zorder=4.5)
    ax2.add_patch(box)
    leg = ax2.legend(
        [ln_g, ln_r, ln_s], LABELS,
        loc="upper left", bbox_to_anchor=(0.502, 0.8684), borderaxespad=0,
        fontsize=19, frameon=False, borderpad=0, labelspacing=1.545,
        handlelength=1.92, handletextpad=0.32,
    )
    for line in leg.get_lines():
        line.set_linewidth(1.6)

    fig.savefig("out.png", dpi=100)
    plt.close(fig)


if __name__ == "__main__":
    main()
